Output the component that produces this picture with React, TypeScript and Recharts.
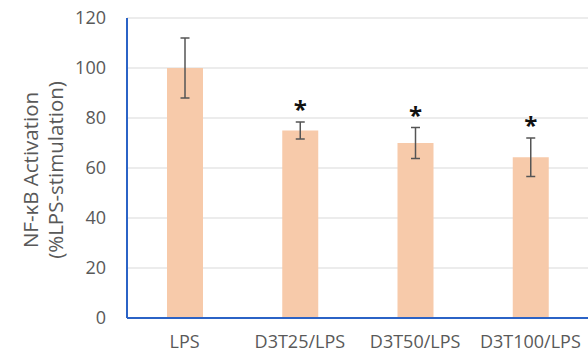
import React from "react";
import { BarChart, Bar, XAxis, YAxis, CartesianGrid, ErrorBar, LabelList, Label } from "recharts";

const categories = ["LPS", "D3T25/LPS", "D3T50/LPS", "D3T100/LPS"];
const activation = [100, 75, 70, 64.3];
const errors = [12, 3.4, 6.2, 7.7];
const significance = ["", "*", "*", "*"];
const yTicks = [0, 20, 40, 60, 80, 100, 120];

const data = categories.map((c, i) => ({
  name: c,
  value: activation[i],
  err: errors[i],
  sig: significance[i],
}));

const FONT = "'Open Sans', sans-serif";
const AXIS_BLUE = "#2B63C6";
const TEXT_GRAY = "#595959";

const StarLabel = (props: any) => {
  const { x, y, width, height, index } = props;
  const d = data[index];
  if (!d || !d.sig) return null;
  const pxPerUnit = height / d.value;
  const errTop = y - d.err * pxPerUnit;
  return (
    <text
      x={x + width / 2}
      y={errTop - 4}
      textAnchor="middle"
      fontFamily={FONT}
      fontSize={24}
      fontWeight="bold"
      fill="#111"
    >
      {d.sig}
    </text>
  );
};

const AxisTitle = (props: any) => {
  const cy = 170;
  return (
    <g fontFamily={FONT} fontSize={20.5} fill={TEXT_GRAY}>
      <text x={30} y={cy} textAnchor="middle" dominantBaseline="central" transform={`rotate(-90, 30, ${cy})`}>
        NF-κB Activation
      </text>
      <text x={55} y={cy} textAnchor="middle" dominantBaseline="central" transform={`rotate(-90, 55, ${cy})`}>
        (%LPS-stimulation)
      </text>
    </g>
  );
};

export default function App() {
  return (
    <div style={{ position: "absolute", left: 0, top: 0, width: 588, height: 356, background: "#fff" }}>
      <BarChart
        width={588}
        height={356}
        data={data}
        margin={{ top: 18, right: 0, bottom: 0, left: 0 }}
        barCategoryGap={0}
      >
        <CartesianGrid vertical={false} stroke="#D9D9D9" strokeWidth={1} />
        <XAxis
          dataKey="name"
          height={38}
          axisLine={{ stroke: AXIS_BLUE, strokeWidth: 2 }}
          tickLine={false}
          tickMargin={11}
          tick={{ fill: TEXT_GRAY, fontSize: 18, fontFamily: FONT }}
          interval={0}
        />
        <YAxis
          width={127}
          domain={[0, 120]}
          ticks={yTicks}
          axisLine={{ stroke: AXIS_BLUE, strokeWidth: 2 }}
          tickLine={false}
          tickSize={6}
          tickMargin={15}
          tick={{ fill: TEXT_GRAY, fontSize: 18, fontFamily: FONT }}
        >
          <Label content={<AxisTitle />} />
        </YAxis>
        <Bar dataKey="value" fill="#F7CAAA" barSize={36} isAnimationActive={false}>
          <ErrorBar dataKey="err" width={4.5} stroke="#555" strokeWidth={1.5} direction="y" />
          <LabelList dataKey="sig" content={<StarLabel />} />
        </Bar>
      </BarChart>
    </div>
  );
}
